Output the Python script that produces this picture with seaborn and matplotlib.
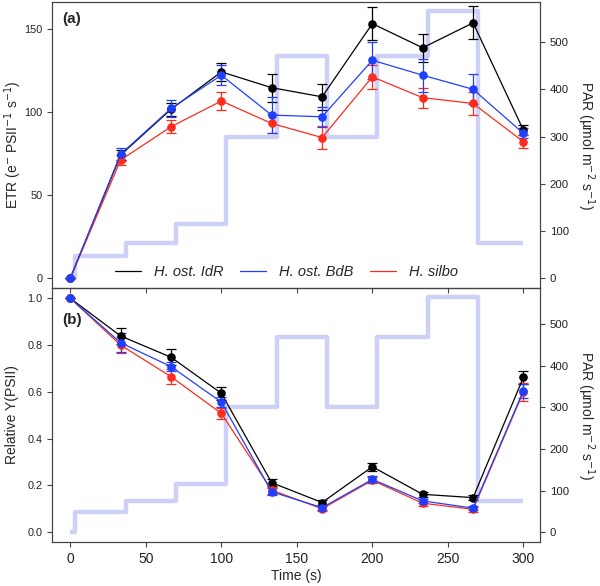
import numpy as np
import pandas as pd
import matplotlib
matplotlib.use("Agg")
import matplotlib.pyplot as plt
import seaborn as sns
from matplotlib.lines import Line2D

# sampling times (s)
time = [0, 33.3, 66.7, 100, 133.3, 166.7, 200, 233.3, 266.7, 300]

species = ["H. ost. IdR", "H. ost. BdB", "H. silbo"]
colors = {"H. ost. IdR": "#000000", "H. ost. BdB": "#1f3fff", "H. silbo": "#ff2b1c"}

# ETR values and error bars
etr_idr = [0, 74, 101.5, 124, 114.5, 109, 153, 138.5, 153.5, 89]
etr_bdb = [0, 74.5, 102, 122, 98, 97, 131, 122, 113.5, 87]
etr_silbo = [0, 71, 91, 106.5, 93, 84.5, 121, 108.5, 105, 82]
etr_idr_err = [0, 3, 4, 5.5, 8.5, 8, 10, 8.5, 10, 3]
etr_bdb_err = [0, 4, 5, 6, 11, 6, 11, 10, 9, 3]
etr_silbo_err = [0, 3, 4, 5.5, 5.5, 7, 7, 6, 7, 4]

# relative Y(PSII)
y_idr = [1.0, 0.839, 0.748, 0.594, 0.212, 0.127, 0.280, 0.162, 0.148, 0.662]
y_bdb = [1.0, 0.810, 0.708, 0.556, 0.173, 0.105, 0.226, 0.134, 0.103, 0.605]
y_silbo = [1.0, 0.800, 0.665, 0.508, 0.180, 0.100, 0.222, 0.124, 0.098, 0.600]
y_idr_err = [0, 0.035, 0.035, 0.028, 0.015, 0.01, 0.018, 0.01, 0.01, 0.027]
y_bdb_err = [0, 0.04, 0.02, 0.02, 0.015, 0.01, 0.015, 0.01, 0.01, 0.03]
y_silbo_err = [0, 0.035, 0.033, 0.025, 0.015, 0.01, 0.012, 0.01, 0.01, 0.04]

# PAR light protocol (step changes)
par_time = [0, 3.3, 36.7, 70, 103.3, 136.7, 170, 203.3, 236.7, 270, 300]
par_value = [0, 48, 75, 115, 300, 470, 300, 470, 565, 75, 75]

rows = []
for sp, e, ee, y, ye in [
    ("H. ost. IdR", etr_idr, etr_idr_err, y_idr, y_idr_err),
    ("H. silbo", etr_silbo, etr_silbo_err, y_silbo, y_silbo_err),
    ("H. ost. BdB", etr_bdb, etr_bdb_err, y_bdb, y_bdb_err),
]:
    for t, a, b, c, d in zip(time, e, ee, y, ye):
        rows.append({"species": sp, "time": t, "etr": a, "etr_err": b, "yield": c, "yield_err": d})
df = pd.DataFrame(rows)
par_df = pd.DataFrame({"time": par_time, "par": par_value})

sns.set_style("ticks")
plt.rcParams["font.family"] = ["Liberation Sans", "DejaVu Sans"]
plt.rcParams["axes.edgecolor"] = "#444444"
plt.rcParams["xtick.color"] = "#444444"
plt.rcParams["ytick.color"] = "#444444"
plt.rcParams["xtick.labelcolor"] = "#222222"
plt.rcParams["ytick.labelcolor"] = "#222222"

fig = plt.figure(figsize=(6, 5.86), dpi=100)
ax_a = fig.add_axes([0.087, 0.5085, 0.813, 0.488])
ax_b = fig.add_axes([0.087, 0.075, 0.813, 0.4335])

hue_order = ["H. ost. IdR", "H. silbo", "H. ost. BdB"]
par_color = "#cdd1f7"


def draw_panel(ax, col, err_col, ylim, par_ylim, yticks, ylabel):
    twin = ax.twinx()
    twin.plot(par_df["time"], par_df["par"], drawstyle="steps-post", color=par_color, lw=3.2, solid_capstyle="butt")
    twin.set_ylim(*par_ylim)
    twin.set_yticks([0, 100, 200, 300, 400, 500])
    twin.set_ylabel("PAR (µmol m$^{-2}$ s$^{-1}$)", rotation=270, labelpad=20, fontsize=10)
    twin.tick_params(labelsize=8.2, length=3.5)
    ax.set_zorder(twin.get_zorder() + 1)
    ax.patch.set_visible(False)

    for sp in hue_order:
        sub = df[df["species"] == sp]
        ax.errorbar(sub["time"], sub[col], yerr=sub[err_col], fmt="none",
                    ecolor=colors[sp], elinewidth=0.9, capsize=3.5, capthick=0.9)
    sns.lineplot(data=df, x="time", y=col, hue="species", hue_order=hue_order,
                 palette=colors, marker="o", markersize=6.2, markeredgewidth=0,
                 linewidth=0.9, legend=False, ax=ax, sort=False)
    ax.set_xlim(-12, 311)
    ax.set_ylim(*ylim)
    ax.set_yticks(yticks)
    ax.set_xticks([0, 50, 100, 150, 200, 250, 300])
    ax.set_ylabel(ylabel, fontsize=10)
    ax.tick_params(axis="y", labelsize=7.8, length=3.5)
    ax.tick_params(axis="x", labelsize=10, length=3.5)
    return twin


draw_panel(ax_a, "etr", "etr_err", (-6, 166), (-20.5, 585), [0, 50, 100, 150],
           "ETR (e$^{-}$ PSII$^{-1}$ s$^{-1}$)")
draw_panel(ax_b, "yield", "yield_err", (-0.042, 1.044), (-23.3, 587), [0.0, 0.2, 0.4, 0.6, 0.8, 1.0],
           "Relative Y(PSII)")

ax_a.set_xlabel("")
ax_a.tick_params(labelbottom=False)
ax_b.set_xlabel("Time (s)", fontsize=10, labelpad=2)
ax_b.set_yticklabels(["0.0", "0.2", "0.4", "0.6", "0.8", "1.0"])
ax_a.yaxis.set_label_coords(-0.058, 0.5)
ax_b.yaxis.set_label_coords(-0.068, 0.5)

ax_a.text(0.02, 0.965, "(a)", transform=ax_a.transAxes, fontsize=11, fontweight="bold", va="top")
ax_b.text(0.02, 0.90, "(b)", transform=ax_b.transAxes, fontsize=11, fontweight="bold", va="top")

handles = [Line2D([0], [0], color=colors[s], lw=0.9) for s in species]
ax_a.legend(handles, species, loc="lower center", bbox_to_anchor=(0.48, -0.015), ncol=3,
            frameon=False, prop={"style": "italic", "size": 10.5}, handlelength=1.8,
            columnspacing=1.1, handletextpad=0.9)

fig.savefig("out.png", dpi=100)
